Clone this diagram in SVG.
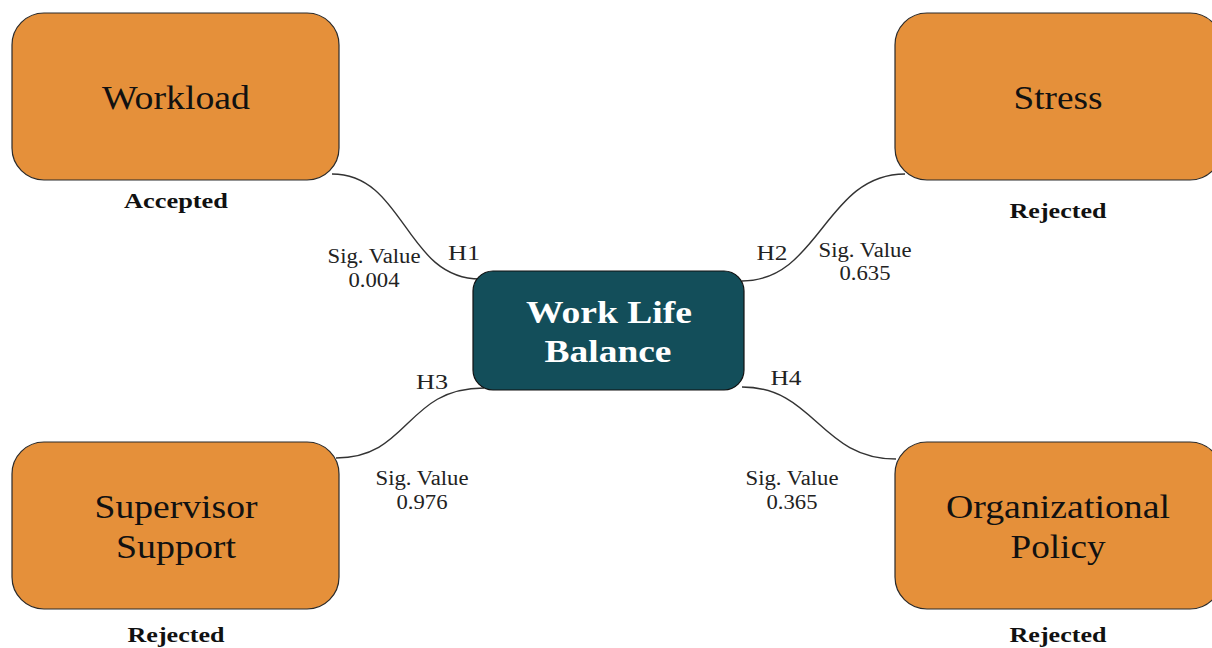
<svg xmlns="http://www.w3.org/2000/svg" width="1212" height="648" viewBox="0 0 1212 648">
<style>
text{font-family:"Liberation Serif",serif;text-anchor:middle}
.box{fill:#E5903A;stroke:#2a2a2a;stroke-width:1.2}
.core{fill:#134E5A;stroke:#111;stroke-width:1.2}
.lbl{font-size:33px;fill:#111}
.core-t{font-size:32px;font-weight:bold;fill:#fff}
.res{font-size:21px;font-weight:bold;fill:#111}
.h{font-size:22px;fill:#222}
.sig{font-size:20px;fill:#222}
.conn{fill:none;stroke:#333;stroke-width:1.4}
</style>
<rect width="1212" height="648" fill="#fff"/>
<g id="connectors">
<path class="conn" d="M332,174 C405,174 405,279 480,279"/>
<path class="conn" d="M742,281 C820,281 825,174 905,174"/>
<path class="conn" d="M336,458 C410,458 405,388 484,388"/>
<path class="conn" d="M742,387 C815,387 820,459 896,459"/>
</g>
<g id="workload">
<rect class="box" x="12" y="13" width="327" height="167" rx="32"/>
<text class="lbl" x="176" y="109" textLength="148" lengthAdjust="spacingAndGlyphs">Workload</text>
<text class="res" x="176" y="208" textLength="104" lengthAdjust="spacingAndGlyphs">Accepted</text>
</g>
<g id="stress">
<rect class="box" x="895" y="13" width="327" height="167" rx="32"/>
<text class="lbl" x="1058" y="109" textLength="89" lengthAdjust="spacingAndGlyphs">Stress</text>
<text class="res" x="1058" y="218" textLength="97" lengthAdjust="spacingAndGlyphs">Rejected</text>
</g>
<g id="supervisor">
<rect class="box" x="12" y="442" width="327" height="167" rx="32"/>
<text class="lbl" x="176" y="518" textLength="163" lengthAdjust="spacingAndGlyphs">Supervisor</text>
<text class="lbl" x="176" y="558" textLength="120" lengthAdjust="spacingAndGlyphs">Support</text>
<text class="res" x="176" y="642" textLength="97" lengthAdjust="spacingAndGlyphs">Rejected</text>
</g>
<g id="policy">
<rect class="box" x="895" y="442" width="327" height="167" rx="32"/>
<text class="lbl" x="1058" y="518" textLength="224" lengthAdjust="spacingAndGlyphs">Organizational</text>
<text class="lbl" x="1058" y="558" textLength="95" lengthAdjust="spacingAndGlyphs">Policy</text>
<text class="res" x="1058" y="642" textLength="97" lengthAdjust="spacingAndGlyphs">Rejected</text>
</g>
<g id="wlb">
<rect class="core" x="473" y="271" width="271" height="119" rx="20"/>
<text class="core-t" x="609" y="323" textLength="166" lengthAdjust="spacingAndGlyphs">Work Life</text>
<text class="core-t" x="608" y="362" textLength="127" lengthAdjust="spacingAndGlyphs">Balance</text>
</g>
<g id="labels">
<text class="h" x="464" y="260" textLength="32" lengthAdjust="spacingAndGlyphs">H1</text>
<text class="sig" x="374" y="263" textLength="93" lengthAdjust="spacingAndGlyphs">Sig. Value</text>
<text class="sig" x="374" y="287" textLength="51" lengthAdjust="spacingAndGlyphs">0.004</text>
<text class="h" x="772" y="260" textLength="31" lengthAdjust="spacingAndGlyphs">H2</text>
<text class="sig" x="865" y="257" textLength="93" lengthAdjust="spacingAndGlyphs">Sig. Value</text>
<text class="sig" x="865" y="280" textLength="51" lengthAdjust="spacingAndGlyphs">0.635</text>
<text class="h" x="432" y="389" textLength="32" lengthAdjust="spacingAndGlyphs">H3</text>
<text class="sig" x="422" y="485" textLength="93" lengthAdjust="spacingAndGlyphs">Sig. Value</text>
<text class="sig" x="422" y="509" textLength="51" lengthAdjust="spacingAndGlyphs">0.976</text>
<text class="h" x="786" y="385" textLength="31" lengthAdjust="spacingAndGlyphs">H4</text>
<text class="sig" x="792" y="485" textLength="93" lengthAdjust="spacingAndGlyphs">Sig. Value</text>
<text class="sig" x="792" y="509" textLength="51" lengthAdjust="spacingAndGlyphs">0.365</text>
</g>
</svg>
